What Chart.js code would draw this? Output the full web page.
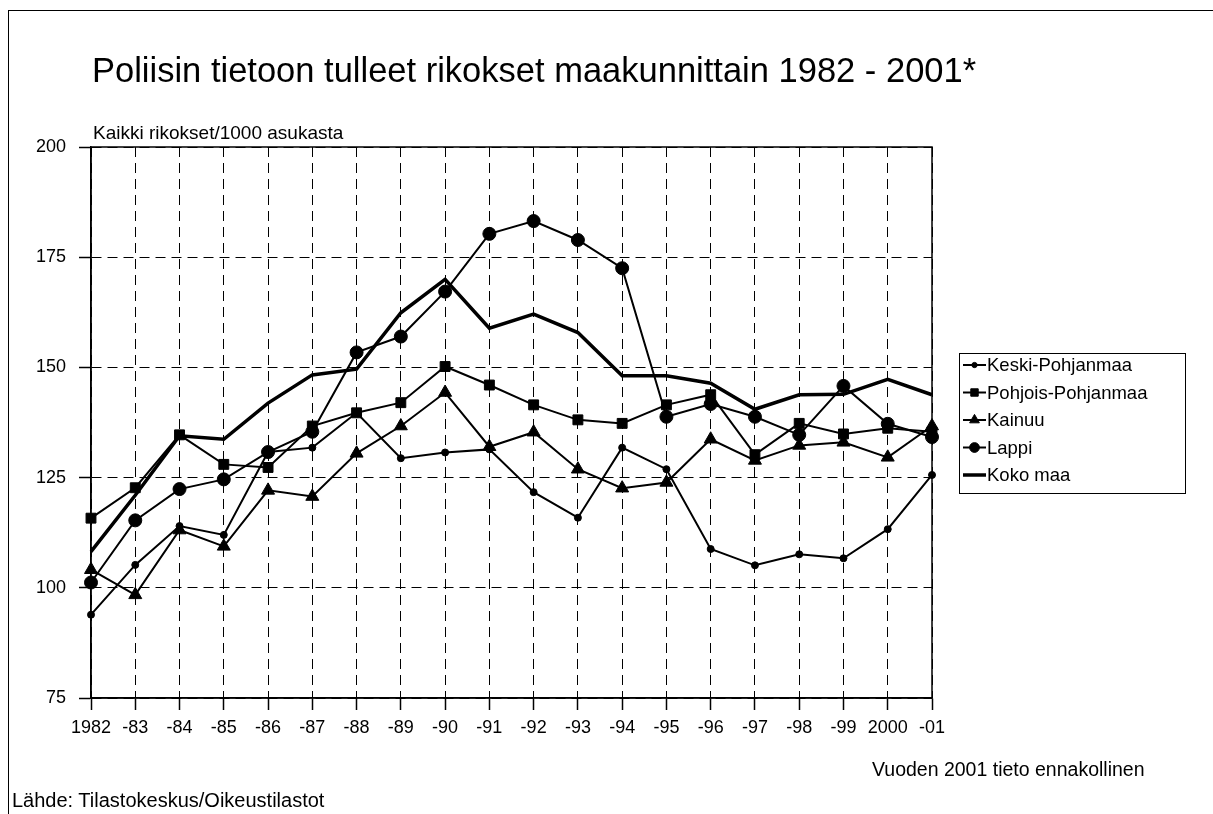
<!DOCTYPE html>
<html lang="fi">
<head>
  <meta charset="UTF-8">
  <title>Poliisin tietoon tulleet rikokset</title>
  <script src="https://cdn.jsdelivr.net/npm/chart.js"></script>
  <style>
    body { margin: 0; background: #fff; font-family: "Liberation Sans", Arial, sans-serif; }
    #wrap { position: relative; width: 1213px; height: 814px; overflow: hidden; }
    #frame { position: absolute; left: 8px; top: 10px; width: 1300px; height: 900px;
             border-left: 1px solid #000; border-top: 1px solid #000; }
    canvas { position: absolute; left: 0; top: 0; }
    .txt { position: absolute; color: #000; white-space: nowrap; }
    #title { left: 92px; top: 51px; font-size: 34.5px; line-height: 38px; }
    #ycap { left: 93px; top: 122px; font-size: 19px; line-height: 21px; }
    #src { left: 12px; top: 789px; font-size: 20px; line-height: 23px; }
    #note { left: 872px; top: 759px; font-size: 19.5px; line-height: 21px; }
  </style>
</head>
<body>
<div id="wrap">
  <div id="frame"></div>
  <canvas id="crimeChart" width="1213" height="814"></canvas>
  <div class="txt" id="title">Poliisin tietoon tulleet rikokset maakunnittain 1982 - 2001*</div>
  <div class="txt" id="ycap">Kaikki rikokset/1000 asukasta</div>
  <div class="txt" id="src">Lähde: Tilastokeskus/Oikeustilastot</div>
  <div class="txt" id="note">Vuoden 2001 tieto ennakollinen</div>
</div>

<script>
  const years = ['1982', '-83', '-84', '-85', '-86', '-87', '-88', '-89', '-90', '-91',
                 '-92', '-93', '-94', '-95', '-96', '-97', '-98', '-99', '2000', '-01'];

  const keskiPohjanmaa = [93.9, 105.2, 114.0, 112.0, 130.8, 131.8, 139.7, 129.4, 130.7, 131.4,
                          121.7, 115.9, 131.8, 126.9, 108.8, 105.1, 107.6, 106.7, 113.3, 125.6];
  const pohjoisPohjanmaa = [115.8, 122.7, 134.7, 128.0, 127.3, 136.7, 139.7, 142.0, 150.2, 146.0,
                            141.5, 138.1, 137.3, 141.5, 143.8, 130.2, 137.3, 134.9, 136.2, 135.4];
  const kainuu = [104.1, 98.4, 113.1, 109.4, 122.1, 120.7, 130.5, 136.7, 144.3, 132.0,
                  135.3, 126.9, 122.6, 123.9, 133.7, 128.9, 132.3, 133.0, 129.6, 136.7];
  const lappi = [101.2, 115.3, 122.4, 124.6, 130.8, 135.4, 153.4, 157.0, 167.2, 180.3,
                 183.2, 178.9, 172.5, 138.8, 141.7, 138.8, 134.7, 145.8, 137.2, 134.2];
  const kokoMaa = [108.2, 121.0, 134.5, 133.7, 141.9, 148.3, 149.6, 162.4, 170.0, 158.9,
                   162.1, 157.9, 148.1, 148.1, 146.4, 140.5, 143.8, 143.9, 147.3, 143.8];

  const yTicks = [75, 100, 125, 150, 175, 200];

  const FONT = '"Liberation Sans", Arial, sans-serif';

  function series(label, data, style, radius, width) {
    return {
      label, data,
      borderColor: '#000',
      backgroundColor: '#000',
      pointBackgroundColor: '#000',
      pointBorderColor: '#000',
      pointBorderWidth: 1,
      borderWidth: width,
      pointStyle: style,
      pointRadius: radius,
      pointHoverRadius: radius,
      tension: 0,
      fill: false
    };
  }

  // solid frame round the plot area (grid lines are dashed)
  const plotFrame = {
    id: 'plotFrame',
    beforeDatasetsDraw(chart) {
      const { ctx, chartArea: a } = chart;
      ctx.save();
      ctx.strokeStyle = '#000';
      ctx.lineWidth = 1.5;
      ctx.setLineDash([]);
      ctx.strokeRect(a.left, a.top, a.right - a.left, a.bottom - a.top);
      ctx.restore();
    }
  };

  // legend box on the right, like the original
  const boxLegend = {
    id: 'boxLegend',
    afterDraw(chart) {
      const ctx = chart.ctx;
      const x0 = 959, y0 = 353, w = 226, h = 140, rowH = 27.5;
      ctx.save();
      ctx.fillStyle = '#fff';
      ctx.fillRect(x0, y0, w, h);
      ctx.strokeStyle = '#000';
      ctx.lineWidth = 1;
      ctx.strokeRect(x0 + 0.5, y0 + 0.5, w, h);
      chart.data.datasets.forEach((ds, i) => {
        const cy = y0 + 12 + i * rowH;
        ctx.strokeStyle = '#000';
        ctx.fillStyle = '#000';
        ctx.lineWidth = ds.borderWidth;
        ctx.beginPath();
        ctx.moveTo(x0 + 4, cy);
        ctx.lineTo(x0 + 27, cy);
        ctx.stroke();
        if (ds.pointRadius > 0) {
          ctx.lineWidth = 1;
          Chart.helpers.drawPoint(ctx, {
            pointStyle: ds.pointStyle,
            radius: ds.pointRadius * 0.75,
            rotation: 0,
            borderWidth: 1
          }, x0 + 15.5, cy);
        }
        ctx.font = '18.5px ' + FONT;
        ctx.textBaseline = 'middle';
        ctx.textAlign = 'left';
        ctx.fillText(ds.label, x0 + 28, cy + 1);
      });
      ctx.restore();
    }
  };

  new Chart(document.getElementById('crimeChart'), {
    type: 'line',
    data: {
      labels: years,
      datasets: [
        series('Keski-Pohjanmaa', keskiPohjanmaa, 'circle', 3.5, 2),
        series('Pohjois-Pohjanmaa', pohjoisPohjanmaa, 'rect', 7, 2),
        series('Kainuu', kainuu, 'triangle', 7.5, 2),
        series('Lappi', lappi, 'circle', 6.5, 2),
        series('Koko maa', kokoMaa, 'line', 0, 3.5)
      ]
    },
    options: {
      responsive: false,
      animation: false,
      events: [],
      layout: { padding: { left: 0, top: 147, right: 281, bottom: 76 } },
      plugins: { legend: { display: false }, tooltip: { enabled: false }, title: { display: false } },
      scales: {
        x: {
          offset: false,
          grid: { color: '#000', lineWidth: 1, tickLength: 12, tickColor: '#000', tickWidth: 1.5, tickBorderDash: [] },
          border: { display: true, color: '#000', width: 1.5, dash: [10, 6] },
          ticks: { color: '#000', font: { family: FONT, size: 18 }, padding: 7, maxRotation: 0, autoSkip: false },
          afterFit(s) { s.height = 40; }
        },
        y: {
          min: 75, max: 200,
          afterBuildTicks(s) { s.ticks = yTicks.map(v => ({ value: v })); },
          grid: { color: '#000', lineWidth: 1, tickLength: 12, tickColor: '#000', tickWidth: 1.5, tickBorderDash: [] },
          border: { display: true, color: '#000', width: 1.5, dash: [10, 6] },
          ticks: { color: '#000', font: { family: FONT, size: 18 }, padding: 13 },
          afterFit(s) { s.width = 91; }
        }
      }
    },
    plugins: [plotFrame, boxLegend]
  });
</script>
</body>
</html>
